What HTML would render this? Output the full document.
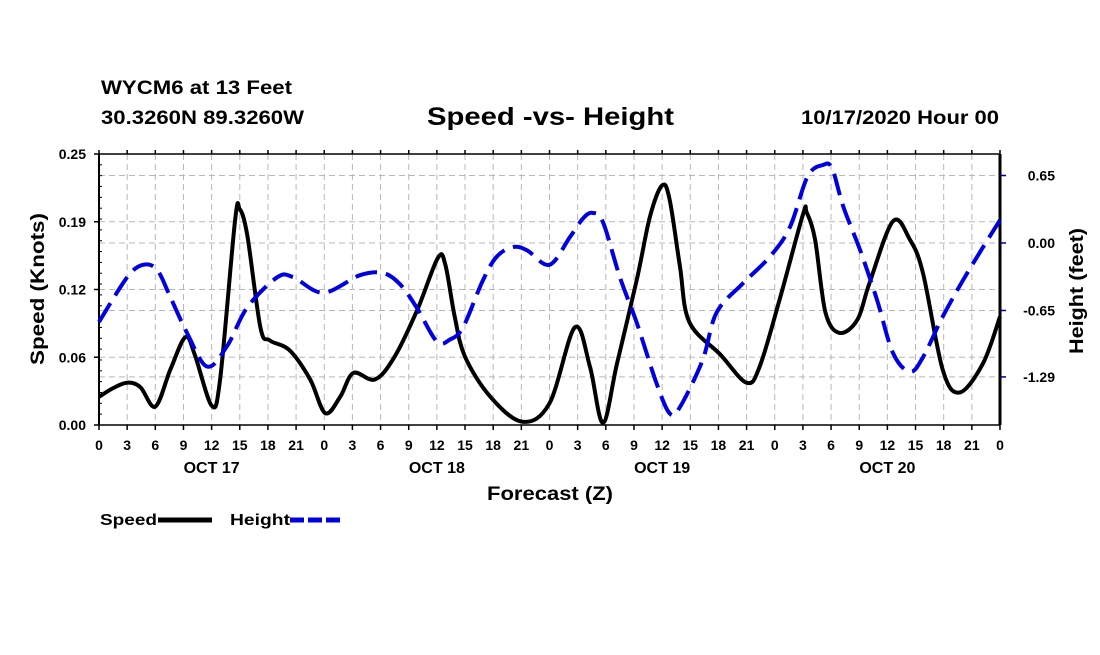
<!DOCTYPE html>
<html><head><meta charset="utf-8"><style>
body{margin:0;background:#fff}
svg text{font-family:"Liberation Sans",sans-serif;font-weight:bold;fill:#000}
</style></head><body>
<svg id="chart" width="1100" height="650" viewBox="0 0 1100 650" xmlns="http://www.w3.org/2000/svg">
<rect width="1100" height="650" fill="#fff"/>
<text x="101" y="94" font-size="19" textLength="191" lengthAdjust="spacingAndGlyphs">WYCM6 at 13 Feet</text>
<text x="101" y="124" font-size="19" textLength="203" lengthAdjust="spacingAndGlyphs">30.3260N 89.3260W</text>
<text x="427" y="125" font-size="25" textLength="247" lengthAdjust="spacingAndGlyphs">Speed -vs- Height</text>
<text x="801" y="124" font-size="19" textLength="198" lengthAdjust="spacingAndGlyphs">10/17/2020 Hour 00</text>
<g id="grid"></g>
<g id="axes"></g>
<g id="series"></g>
<text transform="translate(44,365) rotate(-90)" font-size="19" textLength="152" lengthAdjust="spacingAndGlyphs">Speed (Knots)</text>
<text transform="translate(1083,354) rotate(-90)" font-size="19" textLength="126" lengthAdjust="spacingAndGlyphs">Height (feet)</text>
<text x="487" y="500" font-size="19" textLength="126" lengthAdjust="spacingAndGlyphs">Forecast (Z)</text>
<g>
<text x="100" y="525" font-size="16" textLength="57" lengthAdjust="spacingAndGlyphs">Speed</text>
<line x1="158" y1="520" x2="212" y2="520" stroke="#000" stroke-width="5"/>
<text x="230" y="525" font-size="16" textLength="60" lengthAdjust="spacingAndGlyphs">Height</text>
<line x1="290" y1="520" x2="342" y2="520" stroke="#0000e0" stroke-width="5" stroke-dasharray="14,4"/>
</g>
</svg>
<script>
const speedHours=[0,1.5,3,4.4,6,7.6,9.2,10.2,12,12.9,14.5,15,15.8,17.2,18.2,20.3,22.5,24.1,25.7,27.1,29.4,31.5,33.9,36.1,36.9,37.9,39.0,41.7,45.1,48.0,50.7,52.3,53.7,55.2,57.3,58.7,60.0,60.8,61.9,62.9,66.2,69.0,70.4,72.5,75.0,75.4,76.3,77.4,78.9,80.8,82.1,84.6,86.4,87.8,89.9,91.7,94.2,96];
const speedValues=[.026,.034,.039,.035,.017,.051,.081,.065,.018,.042,.189,.199,.175,.090,.078,.069,.042,.011,.026,.048,.042,.063,.106,.154,.148,.100,.063,.026,.003,.020,.090,.054,.002,.057,.134,.192,.221,.208,.146,.095,.065,.039,.054,.115,.194,.196,.171,.104,.085,.097,.131,.188,.171,.140,.051,.030,.057,.100];
const heightHours=[0,3.0,4.7,6.2,7.6,9.4,11.5,13.6,15.8,19.0,20.7,23.9,27.8,30.3,32.1,33.9,36.0,37.4,38.8,40.9,42.4,44.1,45.6,48.0,50.2,51.6,52.6,53.7,55.5,57.3,59.4,60.8,61.9,64.3,65.8,68.6,71.5,73.6,75.5,77.1,78.1,79.3,81.1,82.9,84.6,86.4,87.8,89.9,92.5,96];
const heightValues=[-0.76,-0.33,-0.21,-0.26,-0.52,-0.87,-1.19,-1.00,-0.62,-0.33,-0.33,-0.48,-0.31,-0.29,-0.40,-0.63,-0.95,-0.93,-0.81,-0.36,-0.13,-0.04,-0.07,-0.21,0.06,0.24,0.29,0.20,-0.33,-0.77,-1.35,-1.64,-1.58,-1.13,-0.67,-0.39,-0.13,0.15,0.64,0.75,0.72,0.35,-0.07,-0.55,-1.06,-1.24,-1.10,-0.71,-0.29,0.22];
const leftTicks=[0,0.0625,0.125,0.1875,0.25];
const leftTickLabels=["0.00","0.06","0.12","0.19","0.25"];
const rightTicks=[0.65,0,-0.65,-1.29];
const rightTickLabels=["0.65","0.00","-0.65","-1.29"];
const xTickLabels=["0","3","6","9","12","15","18","21"];
const dayLabels=["OCT 17","OCT 18","OCT 19","OCT 20"];

const X0=99,X1=1000,Y0=154,Y1=425;
const xs=h=>X0+(X1-X0)*h/96;
const yl=v=>Y1-(Y1-Y0)*v/0.25;
const rMin=-1.753,rMax=0.857;
const yr=v=>Y1-(Y1-Y0)*(v-rMin)/(rMax-rMin);
const NS="http://www.w3.org/2000/svg";
function mk(tag,attrs,parent){const e=document.createElementNS(NS,tag);for(const k in attrs)e.setAttribute(k,attrs[k]);parent.appendChild(e);return e;}
const grid=document.getElementById('grid'),axes=document.getElementById('axes'),series=document.getElementById('series');
mk('rect',{x:X0,y:Y0,width:X1-X0,height:Y1-Y0,fill:'#fff'},grid);
for(let i=1;i<32;i++){const x=xs(i*3);
 const g=mk('line',{x1:x,y1:Y0,x2:x,y2:Y1,stroke:'#b8b8b8','stroke-width':1,'stroke-dasharray':'6,4'},grid);
 
 }
leftTicks.slice(1,4).forEach(v=>{const g=mk('line',{x1:X0,y1:yl(v),x2:X1,y2:yl(v),stroke:'#b8b8b8','stroke-width':1,'stroke-dasharray':'6,4'},grid);
 
 });
rightTicks.forEach(v=>{const g=mk('line',{x1:X0,y1:yr(v),x2:X1,y2:yr(v),stroke:'#b8b8b8','stroke-width':1,'stroke-dasharray':'6,4'},grid);
 
 });
mk('line',{x1:X0,y1:Y0,x2:X1,y2:Y0,stroke:'#000','stroke-width':1.5},axes);
mk('line',{x1:X0,y1:Y1,x2:X1,y2:Y1,stroke:'#000','stroke-width':1.5},axes);
mk('line',{x1:X0,y1:Y0,x2:X0,y2:Y1,stroke:'#000','stroke-width':2},axes);
mk('line',{x1:X1,y1:Y0,x2:X1,y2:Y1,stroke:'#000','stroke-width':3},axes);
for(let i=0;i<=32;i++){const x=xs(i*3);
 mk('line',{x1:x,y1:Y1,x2:x,y2:Y1+5,stroke:'#000','stroke-width':1.5},axes);
 mk('line',{x1:x,y1:Y0,x2:x,y2:Y0-4,stroke:'#000','stroke-width':1.5},axes);
 const t=mk('text',{x:x,y:Y1+25,'font-size':14,'text-anchor':'middle'},axes);
 t.textContent=xTickLabels[i%8];
 
 }
dayLabels.forEach((d,i)=>{const t=mk('text',{x:xs(12+24*i),y:473,'font-size':16,'text-anchor':'middle'},axes);
 t.textContent=d;
 
 });
leftTicks.forEach((v,i)=>{const y=yl(v);
 mk('line',{x1:X0-5,y1:y,x2:X0,y2:y,stroke:'#000','stroke-width':1.5},axes);
 const t=mk('text',{x:X0-13,y:y+5,'font-size':14,'text-anchor':'end'},axes);
 t.textContent=leftTickLabels[i];
 
 });
for(let k=1;k<25;k++){const y=Y1-(Y1-Y0)*k/25;mk('line',{x1:X0,y1:y,x2:X0+3,y2:y,stroke:'#000','stroke-width':1},axes);}
rightTicks.forEach((v,i)=>{const y=yr(v);
 mk('line',{x1:X1,y1:y,x2:X1+6,y2:y,stroke:'#000080','stroke-width':1.5},axes);
 const t=mk('text',{x:X1+55,y:y+5,'font-size':14,'text-anchor':'end'},axes);
 t.textContent=rightTickLabels[i];
 
 });
function pathFrom(hs,vs,ymap){
 const P=hs.map((h,i)=>[xs(h),ymap(vs[i])]);
 let d='M'+P[0][0].toFixed(1)+','+P[0][1].toFixed(1);
 for(let i=0;i<P.length-1;i++){
  const p0=P[Math.max(0,i-1)],p1=P[i],p2=P[i+1],p3=P[Math.min(P.length-1,i+2)];
  const c1=[p1[0]+(p2[0]-p0[0])/6,p1[1]+(p2[1]-p0[1])/6];
  const c2=[p2[0]-(p3[0]-p1[0])/6,p2[1]-(p3[1]-p1[1])/6];
  d+='C'+c1.map(n=>n.toFixed(1))+' '+c2.map(n=>n.toFixed(1))+' '+p2.map(n=>n.toFixed(1));
 }
 return d;}
const sp=mk('path',{d:pathFrom(speedHours,speedValues,yl),fill:'none',stroke:'#000','stroke-width':4,'stroke-linejoin':'round'},series);


const hp=mk('path',{d:pathFrom(heightHours,heightValues,yr),fill:'none',stroke:'#0000e0','stroke-width':4,'stroke-dasharray':'22,9'},series);


</script>
</body></html>
